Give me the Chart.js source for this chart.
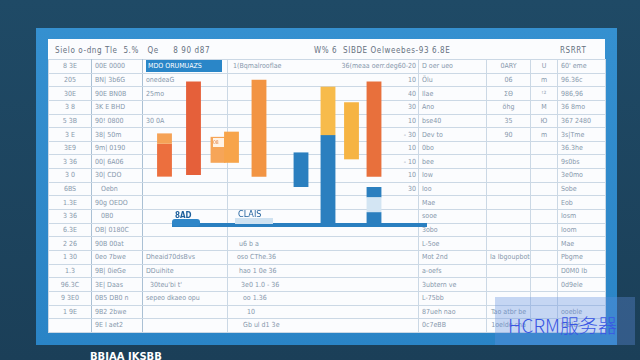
<!DOCTYPE html>
<html>
<head>
<meta charset="utf-8">
<script src="https://cdn.jsdelivr.net/npm/chart.js@4.4.0/dist/chart.umd.min.js"></script>
<style>
  body { margin: 0; width: 640px; height: 360px; overflow: hidden; position: relative;
         background: linear-gradient(#1f4a66, #1b3f58); font-family: "DejaVu Sans Condensed", "DejaVu Sans", sans-serif; }
  #frame { position: absolute; left: 36px; top: 28px; width: 581px; height: 317px; background: linear-gradient(#3590d0, #2a84c6); }
  #sheet { position: absolute; left: 48px; top: 39px; width: 557px; height: 293px; background: #fbfcfe; }
  .t { position: absolute; white-space: nowrap; font-size: 8px; color: #66717e; letter-spacing: 0.6px; }
  #grid { position: absolute; left: 48px; top: 59px; border-collapse: collapse; table-layout: fixed; }
  #grid td { height: 12.65px; padding: 0 3px; border: 1px solid #cbd8e5; font-size: 7px; color: #8798ac;
             white-space: nowrap; overflow: hidden; line-height: 12px; }
  #grid td.c0 { text-align: center; border-right-color: #aac0d4; }
  #grid td.c1 { border-right-color: #aac0d4; }
  #grid td.c5 { text-align: center; }
  #grid td.hl span { background: #2a86c8; color: #fff; display: inline-block; width: 74px; padding-left: 2px; }
  .lr { display: flex; justify-content: space-between; padding-left: 5px; padding-right: 2px; }
  #chartBox { position: absolute; left: 142px; top: 59px; width: 290px; height: 173px; }
  .lab { position: absolute; font-size: 8px; font-weight: bold; color: #1d5f9c; line-height: 9px; }
  #wm { position: absolute; left: 495px; top: 297px; width: 140px; height: 48px; background: rgba(98,143,223,0.35); }
  #wmText { position: absolute; left: 508px; top: 314px; font-family: "Noto Sans CJK SC", sans-serif; font-weight: 300;
            font-size: 19px; color: #3a56e4; white-space: nowrap; line-height: 22px; }
</style>
</head>
<body>
<div id="frame"></div>
<div id="sheet"></div>
<div class="t" style="left:55px;top:46px;">Sielo o-dng Tle &nbsp;5.% &nbsp; Qe &nbsp;&nbsp;&nbsp; 8 90 d87</div>
<div class="t" style="left:314px;top:46px;">W% 6 &nbsp;SIBDE Oelweebes-93 6.8E</div>
<div class="t" style="left:560px;top:46px;">RSRRT</div>
<table id="grid"></table>
<div id="chartBox"><canvas id="rangeChart" width="290" height="173"></canvas></div>
<div style="position:absolute;left:172px;top:219px;width:28px;height:7px;background:#2f86c8;border-radius:3px;"></div>
<div class="lab" style="left:175px;top:211px;">8AD</div>
<div style="position:absolute;left:235px;top:218px;width:38px;height:6px;background:#cfe2f1;"></div>
<div class="lab" style="left:238px;top:210px;font-size:9px;font-weight:normal;">CLAIS</div>
<div style="position:absolute;left:213px;top:138px;width:11px;height:9px;background:#fff3e6;font-size:5px;color:#e07a3a;line-height:9px;">08</div>
<div id="wm"></div>
<div id="wmText">HCRM服务器</div>
<div style="position:absolute;left:90px;top:351px;font:bold 10px 'DejaVu Sans';color:#fff;">BBIAA JKSBB</div>
<script>
// slot positions of the bars along the sheet (x units)
const slots = [2.25, 5.15, 7.6, 8.95, 11.7, 15.9, 18.6, 20.95, 23.2];

// warm (orange / yellow) ranges
const warmLow  = [32, 33, 40, 40, 32, null, 56, 42, 32];
const warmHigh = [51, 87, 55, 58, 88, null, 84, 75, 87];
const warmColors = ['#ec6f3e', '#e5603a', '#f6a558', '#f7a44a', '#f29443', '#f29443', '#f7bb4b', '#f6b443', '#e8703c'];

// light cap on the first bar
const capSlots = [2.25];
const capLow  = [51];
const capHigh = [57];

// blue ranges
const blueSlots = [15.9, 18.6, 23.2, 23.2];
const blueLow   = [26, 4, 20, 4];
const blueHigh  = [46, 56, 26, 11.5];

// pale gap inside the last blue bar
const gapSlots = [23.2];
const gapLow = [11.5];
const gapHigh = [20];

// base line
const baseX = [3.0, 28.5];
const baseY = 4;

function ranges(xs, lo, hi) {
  const out = [];
  xs.forEach((x, i) => { if (lo[i] != null) out.push({ x: x, y: [lo[i], hi[i]] }); });
  return out;
}

// spreadsheet rows: c0, c1, c2, c3 left, c3 right, c4, c5a, c5b, c6
const rows = [
  ['8 3E', '00E 0000', '*MDO ORUMUAZS', '1(Bqmalrooflae', '36(meaa oerr.deg60-20', 'D oer ueo', '0ARY', 'U', '60\' eme'],
  ['205', 'BN| 3b6G', 'onedeaG', '', '10', 'Ölu', '06', 'm', '96.36c'],
  ['30E', '90E BN0B', '25mo', '', '40', 'Ilae', 'ΣΘ', 'ᵗ²', '986,96'],
  ['3 8', '3K E BHD', '', '', '30', 'Ano', 'öhg', 'M', '36 8mo'],
  ['5 3B', '90! 0800', '30 0A', '', '10', 'bse40', '35', 'Ю', '367 2480'],
  ['3 E', '38| 50m', '', '', '- 30', 'Dev to', '90', 'm', '3s|Tme'],
  ['3E9', '9m| 0190', '', '', '10', '0bo', '', '', '36.3he'],
  ['3 36', '00| 6A06', '', '', '- 10', 'bee', '', '', '9s0bs'],
  ['3 0', '30| CDO', '', '', '10', 'Iow', '', '', '3e0mo'],
  ['6BS', '&nbsp;&nbsp;&nbsp;Oebn', '', '', '30', 'Ioo', '', '', 'Sobe'],
  ['1.3E', '90g OEDO', '', '', '', 'Mae', '', '', 'Eob'],
  ['3 36', '&nbsp;&nbsp;&nbsp;0B0', '', '', '', 'sooe', '', '', 'Iosm'],
  ['6.3E', 'OB| 0180C', '', '', '', '3obo', '', '', 'Ioom'],
  ['2 26', '90B 00at', '', '&nbsp;&nbsp;&nbsp;u6 b a', '', 'L-5oe', '', '', 'Mae'],
  ['1 30', '0eo 7bwe', 'Dheaid70dsBvs', '&nbsp;&nbsp;oso CThe.36', '', 'Mot 2nd', 'Ia Ibgoupboto', '', 'Pbgme'],
  ['1.3', '9B| 0ieGe', 'DDuihite', '&nbsp;&nbsp;&nbsp;hao 1 0e 36', '', 'a-oefs', '', '', 'D0M0 Ib'],
  ['96.3C', '3E| Daas', '&nbsp;&nbsp;30teu\'bi t\'', '&nbsp;&nbsp;&nbsp;&nbsp;3e0 1.0 - 36', '', '3ubtern ve', '', '', '0d9ele'],
  ['9 3E0', '0B5 DB0 n', 'sepeo dkaeo opu', '&nbsp;&nbsp;&nbsp;&nbsp;&nbsp;oo 1.36', '', 'L-75bb', '', '', ''],
  ['1 9E', '9B2 2bwe', '', '&nbsp;&nbsp;&nbsp;&nbsp;&nbsp;&nbsp;&nbsp;10', '', '87ueh nao', 'Tao atbr be', '', 'ooeble'],
  ['', '9E I aet2', '', '&nbsp;&nbsp;&nbsp;&nbsp;&nbsp;Gb ul d1 3e', '', '0c7eBB', '1oeldo cna', '', 'f9Bles']
];
const colWidths = [43, 51, 85, 191, 68, 44, 27, 48];

const grid = document.getElementById('grid');
let html = '<colgroup>' + colWidths.map(w => `<col style="width:${w}px">`).join('') + '</colgroup>';
rows.forEach(r => {
  const c2 = r[2].startsWith('*') ? `<td class="hl"><span>${r[2].slice(1)}</span></td>` : `<td>${r[2]}</td>`;
  html += `<tr><td class="c0">${r[0]}</td><td class="c1">${r[1]}</td>${c2}` +
          `<td style="padding:0"><div class="lr"><span>${r[3]}</span><span>${r[4]}</span></div></td>` +
          `<td>${r[5]}</td><td class="c5">${r[6]}</td><td class="c5">${r[7]}</td><td>${r[8]}</td></tr>`;
});
grid.innerHTML = html;
grid.style.width = colWidths.reduce((a, b) => a + b, 0) + 'px';

const barOpts = { grouped: false, categoryPercentage: 1, barPercentage: 1.1, borderWidth: 0 };

const ctx = document.getElementById('rangeChart').getContext('2d');
window.rangeChartObj = new Chart(ctx, {
  type: 'bar',
  data: {
    datasets: [
      Object.assign({ label: 'Cap', data: ranges(capSlots, capLow, capHigh), backgroundColor: '#f5a256', order: 1 }, barOpts),
      Object.assign({ label: 'Warm', data: ranges(slots, warmLow, warmHigh),
        backgroundColor: warmColors.filter((c, i) => warmLow[i] != null), order: 2 }, barOpts),
      Object.assign({ label: 'Gap', data: ranges(gapSlots, gapLow, gapHigh), backgroundColor: '#d3e5f3', order: 3 }, barOpts),
      Object.assign({ label: 'Blue', data: ranges(blueSlots, blueLow, blueHigh), backgroundColor: '#2b7fbf', order: 4 }, barOpts),
      {
        type: 'line',
        label: 'Base',
        data: baseX.map(x => ({ x: x, y: baseY })),
        borderColor: '#2a7fc0',
        borderWidth: 4,
        pointRadius: 0,
        order: 5
      }
    ]
  },
  options: {
    responsive: false,
    animation: false,
    devicePixelRatio: 1,
    layout: { padding: 0 },
    plugins: {
      legend: { display: false },
      tooltip: { enabled: false }
    },
    scales: {
      x: { type: 'linear', min: 0, max: 29, offset: false, display: false },
      y: { min: 0, max: 100, display: false }
    }
  }
});
</script>
</body>
</html>
